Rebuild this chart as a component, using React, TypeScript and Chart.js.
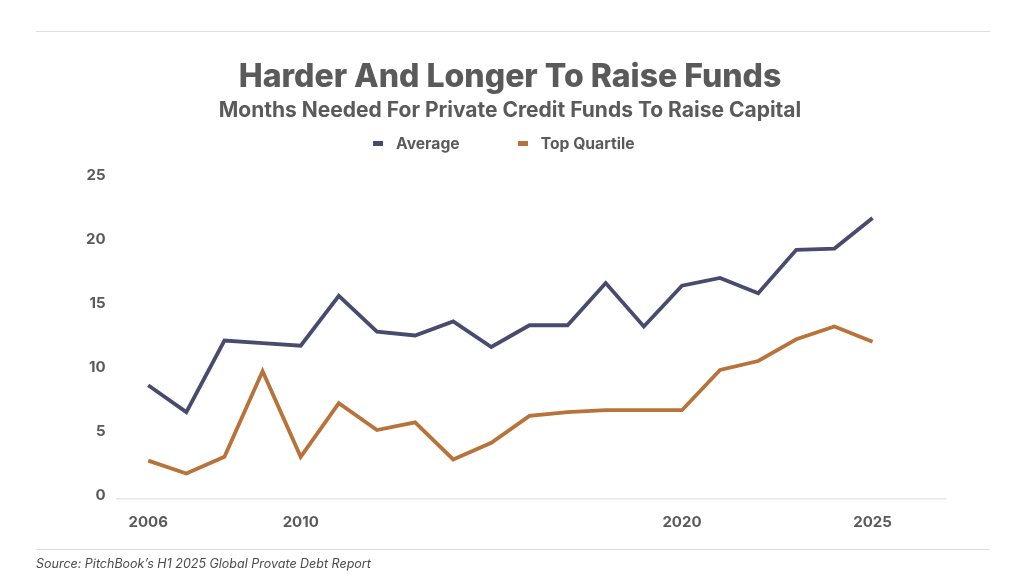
import React, { useEffect, useRef } from "react";
import { Chart, registerables } from "chart.js";

Chart.register(...registerables);

const years = [2006, 2007, 2008, 2009, 2010, 2011, 2012, 2013, 2014, 2015, 2016, 2017, 2018, 2019, 2020, 2021, 2022, 2023, 2024, 2025];
const averageMonths = [8.9, 6.8, 12.4, 12.2, 12.0, 15.9, 13.1, 12.8, 13.9, 11.9, 13.6, 13.6, 16.9, 13.5, 16.7, 17.3, 16.1, 19.5, 19.6, 22.0];
const topQuartileMonths = [3.0, 2.0, 3.3, 10.0, 3.3, 7.5, 5.4, 6.0, 3.1, 4.4, 6.5, 6.8, 6.95, 6.95, 6.95, 10.1, 10.8, 12.5, 13.5, 12.3];
const xTickYears = [2006, 2010, 2020, 2025];
const yTicks = [0, 5, 10, 15, 20, 25];
const seriesNames = ["Average", "Top Quartile"];

const FONT = "Inter, 'Noto Sans', sans-serif";
const TEXT = "#5a5a5a";
const NAVY = "#474b70";
const COPPER = "#b8733a";
const seriesColors = [NAVY, COPPER];

export default function App() {
  const ref = useRef<HTMLCanvasElement>(null);
  useEffect(() => {
    if (!ref.current) return;
    const chart = new Chart(ref.current, {
      type: "line",
      data: {
        datasets: [
          {
            label: seriesNames[0],
            data: years.map((y, i) => ({ x: y, y: averageMonths[i] })),
            borderColor: seriesColors[0],
            backgroundColor: seriesColors[0],
            borderWidth: 3.8,
            pointRadius: 0,
            tension: 0,
          },
          {
            label: seriesNames[1],
            data: years.map((y, i) => ({ x: y, y: topQuartileMonths[i] })),
            borderColor: seriesColors[1],
            backgroundColor: seriesColors[1],
            borderWidth: 3.8,
            pointRadius: 0,
            tension: 0,
          },
        ],
      },
      options: {
        animation: false,
        responsive: false,
        maintainAspectRatio: false,
        layout: { padding: { left: 75, right: 79, top: 0, bottom: 31 } },
        plugins: {
          title: {
            display: true,
            text: "Harder And Longer To Raise Funds",
            color: TEXT,
            font: { family: FONT, size: 32, weight: "800" },
            padding: { top: 58, bottom: 2 },
          },
          subtitle: {
            display: true,
            text: "Months Needed For Private Credit Funds To Raise Capital",
            color: TEXT,
            font: { family: FONT, size: 21, weight: "bold" },
            padding: { top: 0, bottom: 56 },
          },
          legend: { display: false },
          tooltip: { enabled: false },
        },
        scales: {
          x: {
            type: "linear",
            min: 2005.17,
            max: 2026.9,
            afterBuildTicks: (axis: any) => {
              axis.ticks = xTickYears.map((v) => ({ value: v }));
            },
            ticks: {
              color: TEXT,
              font: { family: FONT, size: 15, weight: "bold" },
              padding: 14,
              autoSkip: false,
              maxRotation: 0,
              callback: (v: any) => String(v),
            },
            grid: { display: false, drawTicks: false },
            border: { display: true, color: "#e6e6e6", width: 1.5 },
          },
          y: {
            min: 0,
            max: 25,
            afterBuildTicks: (axis: any) => {
              axis.ticks = yTicks.map((v) => ({ value: v }));
            },
            ticks: {
              color: TEXT,
              font: { family: FONT, size: 15, weight: "bold" },
              padding: 11,
              labelOffset: -4,
            },
            grid: { display: false, drawTicks: false },
            border: { display: false },
          },
        },
      },
    });
    return () => chart.destroy();
  }, []);

  return (
    <div style={{ position: "absolute", left: 0, top: 0, width: 1024, height: 576, background: "#fff", overflow: "hidden" }}>
      <div style={{ position: "absolute", left: 36, top: 31, width: 954, height: 0, borderTop: "1.5px solid #dedede" }} />
      <canvas ref={ref} width={1024} height={576} style={{ position: "absolute", left: 0, top: 0, width: 1024, height: 576 }} />
      <div style={{ position: "absolute", left: 373, top: 133, height: 20, display: "flex", alignItems: "center", fontFamily: FONT, fontSize: 15.7, fontWeight: 700, color: TEXT, whiteSpace: "nowrap" }}>
        {seriesNames.map((name, i) => (
          <div key={name} style={{ display: "flex", alignItems: "center", marginRight: i === 0 ? 58 : 0 }}>
            <span style={{ display: "inline-block", width: 10, height: 5, background: seriesColors[i], marginRight: 13 }} />
            <span>{name}</span>
          </div>
        ))}
      </div>
      <div style={{ position: "absolute", left: 36, top: 549, width: 954, height: 0, borderTop: "1.5px solid #dedede" }} />
      <div style={{ position: "absolute", left: 36, top: 556, fontFamily: FONT, fontSize: 12.5, fontStyle: "italic", color: "#4a4a4a", whiteSpace: "nowrap" }}>
        Source: PitchBook’s H1 2025 Global Provate Debt Report
      </div>
    </div>
  );
}
